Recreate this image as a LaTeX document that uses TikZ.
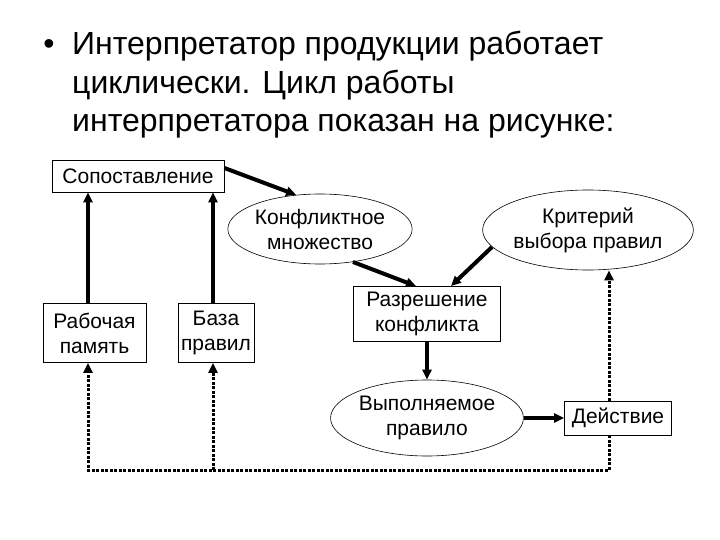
\documentclass[tikz,border=0pt]{standalone}
\usepackage{fontspec}
\setmainfont{Liberation Sans}
\usetikzlibrary{shapes.geometric,arrows.meta}
\begin{document}
\begin{tikzpicture}[x=1pt,y=-1pt,>={Triangle[length=10pt,width=9pt]}]
	\useasboundingbox (0,0) rectangle (720,540);
	\def \toprow{176}
	\def \setrow{229}
	\def \boxrow{333}
	\def \execrow{418}
	\def \basement{470}
	\tikzstyle{p-box}=[rectangle,draw=black,line width=0.9pt,inner sep=1pt,align=center,font=\fontsize{21}{25}\selectfont]
	\tikzstyle{p-ell}=[ellipse,draw=black,line width=0.6pt,inner sep=0pt,align=center,font=\fontsize{21}{25}\selectfont]
	\tikzstyle{thick-arr}=[->,line width=4pt]
	\tikzstyle{dot-arr}=[->,line width=3pt,dash pattern=on 3pt off 1.5pt]
	\tikzstyle{title}=[anchor=base west,inner sep=0pt,align=left,font=\fontsize{32}{38.5}\selectfont]
	% title (base of the node is its last line)
	\node[title,anchor=base] (bullet) at (49,55) {•};
	\node[title] (heading) at (72,132) {Интерпретатор продукции работает\\циклически. Цикл работы\\интерпретатора показан на рисунке:};

	% boxes
	\node[p-box,minimum width=172pt,minimum height=32pt] (sop) at (138,\toprow) {Сопоставление};
	\node[p-box,minimum width=103pt,minimum height=59pt] (rab) at (94.5,\boxrow) {Рабочая\\память};
	\node[p-box,minimum width=76pt,minimum height=59pt] (baz) at (216,\boxrow) {База\\правил};
	\node[p-box,minimum width=147pt,minimum height=55pt] (raz) at (427,314) {Разрешение\\конфликта};
	\node[p-box,minimum width=107pt,minimum height=34pt] (dei) at (618,\execrow) {Действие};

	% ellipses
	\node[p-ell,minimum width=160pt,minimum height=70pt] (kon) at (320,\setrow) {Конфликтное\\множество};
	\node[p-ell,minimum width=172pt,minimum height=80pt] (kri) at (588,230) {Критерий\\выбора правил};
	\node[p-ell,minimum width=156pt,minimum height=76pt] (vyp) at (427,\execrow) {Выполняемое\\правило};

	% corners of the feedback loop
	\coordinate (c-dei) at ([xshift=-9pt]dei.south |- 0,\basement);
	\coordinate (c-rab) at ([xshift=-6.5pt]rab.south |- 0,\basement);
	\coordinate (c-baz) at ([xshift=-3pt]baz.south |- 0,\basement);

	% cycle
	\draw[thick-arr] ([xshift=-6.5pt]rab.north) -- ([xshift=-6.5pt]rab.north |- sop.south);
	\draw[thick-arr] ([xshift=-3pt]baz.north) -- ([xshift=-3pt]baz.north |- sop.south);
	\draw[thick-arr] ([yshift=8pt]sop.east) -- (kon.125);
	\draw[thick-arr] (kon.-45) -- ([xshift=-11pt]raz.north);
	\draw[thick-arr] (kri.190) -- ([xshift=24pt]raz.north);
	\draw[thick-arr] (raz.south) -- (vyp.north);
	\draw[thick-arr] (vyp.east) -- (dei.west);

	% feedback
	\draw[dot-arr] ([xshift=-9pt]dei.north) -- ([xshift=-9pt]dei.north |- kri.south);
	\draw[dot-arr] ([xshift=-9pt]dei.south) -- (c-dei) -- (c-rab) -- ([xshift=-6.5pt]rab.south);
	\draw[dot-arr] (c-baz) -- ([xshift=-3pt]baz.south);
\end{tikzpicture}
\end{document}
